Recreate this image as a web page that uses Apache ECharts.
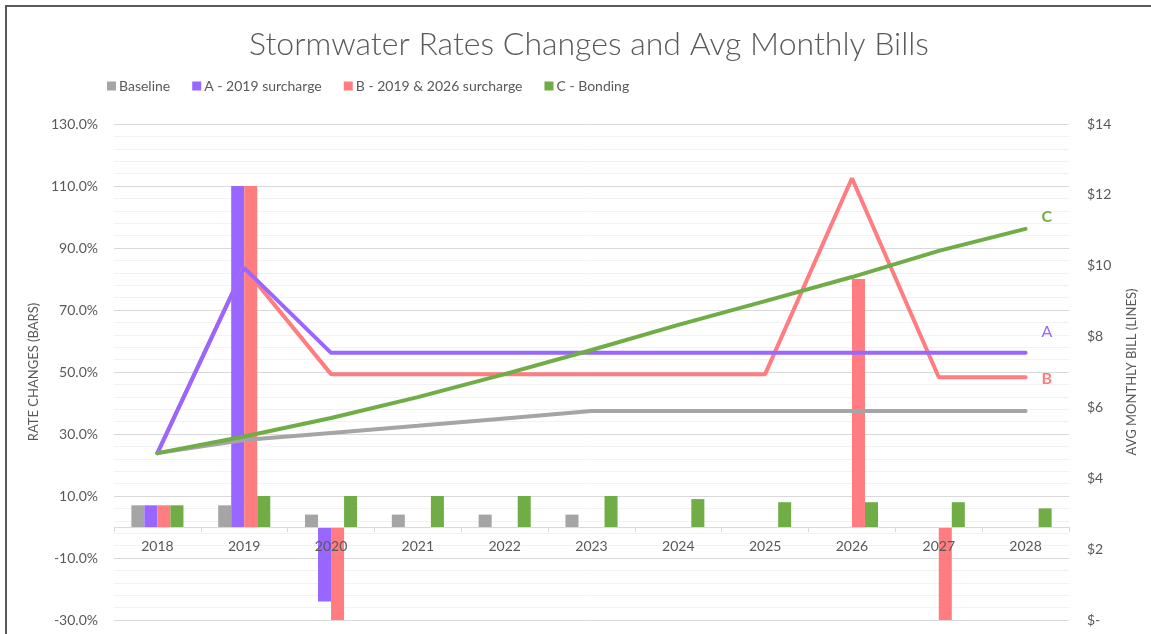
<!DOCTYPE html>
<html>
<head>
<meta charset="utf-8">
<title>Stormwater Rates Changes and Avg Monthly Bills</title>
<script src="https://cdn.jsdelivr.net/npm/echarts@6/dist/echarts.min.js"></script>
<style>
  html, body { margin: 0; padding: 0; background: #fff; }
  #main { width: 1151px; height: 634px; }
</style>
</head>
<body>
<div id="main"></div>
<script>
// categories
const years = ['2018', '2019', '2020', '2021', '2022', '2023', '2024', '2025', '2026', '2027', '2028'];

// rate changes in % (bars, left axis)
const baselineRate = [7, 7, 4, 4, 4, 4, 0, 0, 0, 0, 0];
const aRate = [7, 110, -24, 0, 0, 0, 0, 0, 0, 0, 0];
const bRate = [7, 110, -30, 0, 0, 0, 0, 0, 80, -30, 0];
const cRate = [7, 10, 10, 10, 10, 10, 9, 8, 8, 8, 6];

// avg monthly bill in $ (lines, right axis)
const baselineBill = [4.71, 5.08, 5.28, 5.48, 5.69, 5.9, 5.9, 5.9, 5.9, 5.9, 5.9];
const aBill = [4.71, 9.94, 7.54, 7.54, 7.54, 7.54, 7.54, 7.54, 7.54, 7.54, 7.54];
const bBill = [4.71, 9.94, 6.94, 6.94, 6.94, 6.94, 6.94, 6.94, 12.47, 6.85, 6.85];
const cBill = [4.71, 5.18, 5.7, 6.29, 6.94, 7.62, 8.33, 9.0, 9.68, 10.42, 11.04];

const seriesNames = ['Baseline', 'A - 2019 surcharge', 'B - 2019 & 2026 surcharge', 'C - Bonding'];
const colors = ['#a5a5a5', '#9966ff', '#ff7c80', '#70ad47'];

const font = 'Lato, "Open Sans", sans-serif';
const textColor = '#595959';

// plot box
const gridTop = 124, gridBottom = 14;
const plotH = 634 - gridTop - gridBottom;
const rateMin = -30, rateMax = 130;
// distance of the zero line above the bottom of the plot
const zeroLift = Math.round(plotH * (0 - rateMin) / (rateMax - rateMin));

const chart = echarts.init(document.getElementById('main'));

function bar(i, data) {
  return {
    name: seriesNames[i],
    type: 'bar',
    yAxisIndex: 0,
    data,
    barGap: '0%',
    barCategoryGap: '40%',
    itemStyle: { color: colors[i] },
    z: 2
  };
}

function line(i, data, label, offset, z) {
  return {
    name: seriesNames[i] + ' bill',
    type: 'line',
    yAxisIndex: 1,
    data,
    symbol: 'none',
    lineStyle: { color: colors[i], width: 4, cap: 'round' },
    itemStyle: { color: colors[i] },
    z,
    endLabel: {
      show: !!label,
      formatter: label || '',
      color: colors[i],
      fontFamily: font,
      fontSize: 16,
      fontWeight: i === 1 ? 'normal' : 'bold',
      offset
    }
  };
}

const option = {
  animation: false,
  textStyle: { fontFamily: font },
  title: {
    text: 'Stormwater Rates Changes and Avg Monthly Bills',
    left: 244,
    top: 24,
    textStyle: { fontFamily: font, fontSize: 32, fontWeight: 300, color: textColor }
  },
  legend: {
    data: seriesNames,
    left: 102,
    top: 74,
    itemWidth: 9,
    itemHeight: 9,
    itemGap: 22,
    icon: 'rect',
    textStyle: { fontFamily: font, fontSize: 14, color: textColor, padding: [0, 0, 0, -2] }
  },
  grid: { left: 114, right: 82, top: gridTop, bottom: gridBottom, containLabel: false, outerBoundsMode: 'none' },
  xAxis: {
    type: 'category',
    data: years,
    position: 'bottom',
    offset: -zeroLift,
    axisLine: { onZero: false, lineStyle: { color: '#d9d9d9', width: 1 } },
    axisTick: { show: true, length: 5, inside: false, lineStyle: { color: '#d9d9d9' } },
    axisLabel: { color: textColor, fontSize: 14, margin: 12, fontFamily: font },
    z: 3
  },
  yAxis: [
    {
      type: 'value',
      min: rateMin,
      max: rateMax,
      interval: 20,
      name: 'RATE CHANGES (BARS)',
      nameLocation: 'middle',
      nameGap: 70,
      nameTextStyle: { color: textColor, fontSize: 13, fontFamily: font },
      axisLine: { show: false },
      axisTick: { show: false },
      axisLabel: {
        color: textColor, fontSize: 14, margin: 16, fontFamily: font,
        formatter: v => v.toFixed(1) + '%'
      },
      splitLine: { show: true, lineStyle: { color: '#d9d9d9', width: 1 } },
      minorTick: { show: false, splitNumber: 5 },
      minorSplitLine: { show: true, lineStyle: { color: '#f2f2f2', width: 1 } }
    },
    {
      type: 'value',
      min: 0,
      max: 14,
      interval: 2,
      name: 'AVG MONTHLY BILL (LINES)',
      nameLocation: 'middle',
      nameGap: 56,
      nameRotate: 90,
      nameTextStyle: { color: textColor, fontSize: 13, fontFamily: font },
      axisLine: { show: false },
      axisTick: { show: false },
      axisLabel: {
        color: textColor, fontSize: 14, margin: 18, fontFamily: font,
        formatter: v => (v === 0 ? '$-' : '$' + v)
      },
      splitLine: { show: false }
    }
  ],
  series: [
    bar(0, baselineRate),
    bar(1, aRate),
    bar(2, bRate),
    bar(3, cRate),
    line(0, baselineBill, null, [0, 0], 4),
    line(2, bBill, 'B', [8, 2], 5),
    line(1, aBill, 'A', [8, -21], 6),
    line(3, cBill, 'C', [8, -12], 7)
  ],
  graphic: [
    {
      type: 'polyline',
      shape: { points: [[6, 640], [6, 6], [1160, 6]] },
      style: { stroke: '#595959', lineWidth: 2, fill: null },
      silent: true
    }
  ]
};

chart.setOption(option);
</script>
</body>
</html>
